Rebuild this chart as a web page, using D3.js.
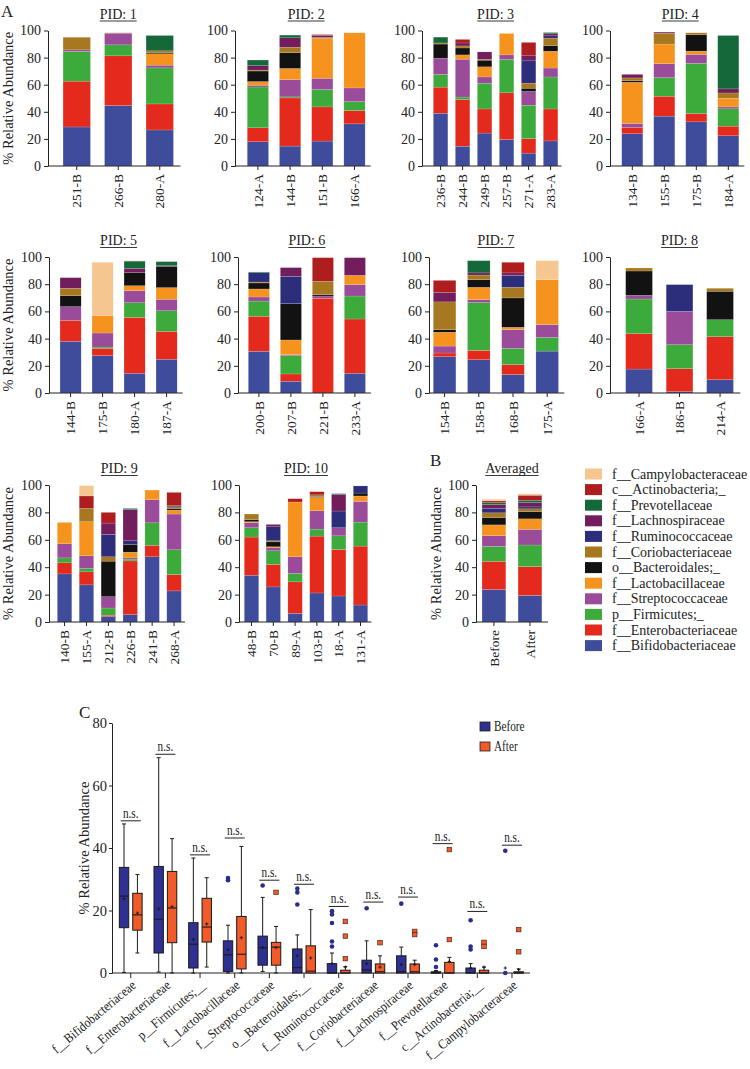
<!DOCTYPE html>
<html><head><meta charset="utf-8">
<script src="https://cdn.jsdelivr.net/npm/d3@7"></script>
<style>
body{margin:0;background:#fff}
svg{display:block}
text{font-family:"Liberation Serif","Times New Roman",serif;fill:#222}
</style>
</head><body>
<svg id="chart" width="750" height="1069"></svg>
<script>
// ---------- DATA ----------
const taxa = ["f__Bifidobacteriaceae","f__Enterobacteriaceae","p__Firmicutes;_","f__Streptococcaceae","f__Lactobacillaceae","o__Bacteroidales;_","f__Coriobacteriaceae","f__Ruminococcaceae","f__Lachnospiraceae","f__Prevotellaceae","c__Actinobacteria;_","f__Campylobacteraceae"];
const taxaColors = ["#3F4C9C","#E32A1C","#3DAA3C","#9A4B99","#F5931E","#121212","#A87820","#2C2E7C","#721D5C","#15683A","#AE1E1E","#F6C690"];

const panelTitles = ["PID: 1","PID: 2","PID: 3","PID: 4","PID: 5","PID: 6","PID: 7","PID: 8","PID: 9","PID: 10"];
const pidSamples = [
  ["251-B","266-B","280-A"],
  ["124-A","144-B","151-B","166-A"],
  ["236-B","244-B","249-B","257-B","271-A","283-A"],
  ["134-B","155-B","175-B","184-A"],
  ["144-B","175-B","180-A","187-A"],
  ["200-B","207-B","221-B","233-A"],
  ["154-B","158-B","168-B","175-A"],
  ["166-A","186-B","214-A"],
  ["140-B","155-A","212-B","226-B","241-B","268-A"],
  ["48-B","70-B","89-A","103-B","18-A","131-A"]
];
// values per sample, in stack order of `taxa`
const pidValues = [
  [[28.8,33.8,21.9,1.2,0,0,9.3,0,0,0,0,0],
   [44.6,36.7,8.1,8.6,0,0,0.3,0,0,0,0,0],
   [26.6,19.2,26.6,2.0,8.4,0.7,1.5,0,0,11.3,0,0]],
  [[17.9,10.3,30.1,1.3,2.7,7.8,0.7,0,3.2,4.2,0,0],
   [14.7,35.5,0.8,12.7,8.3,11.6,4.1,0,6.9,2.0,0,0],
   [18.4,25.2,12.8,8.3,29.4,0,0.8,0,1.4,0,0.7,0],
   [31.1,9.8,6.6,10.1,40.7,0,0,0,0,0,0,0]],
  [[38.9,19.3,9.4,12.0,0,10.4,0.8,0,0,4.3,0,0],
   [14.6,34.5,1.8,27.9,3.2,5.1,1.5,0,2.2,0,2.6,0],
   [24.3,17.8,19.0,4.6,7.5,4.9,0.7,0,5.4,0,0,0],
   [19.5,34.5,24.6,3.4,15.8,0,0,0,0,0,0,0],
   [9.5,10.7,24.6,10.2,0,2.4,3.7,16.5,4.2,0,9.4,0],
   [18.5,23.6,23.6,6.6,12.4,4.1,5.6,1.7,1.5,0.9,0,0]],
  [[23.8,4.6,0,3.0,30.4,1.2,2.0,0,2.6,0,0,0],
   [36.8,14.7,13.7,10.3,14.5,0,8.0,0,0.8,0,0,0],
   [32.6,6.1,37.0,6.7,2.4,12.0,1.5,0,0,0,0,0],
   [22.3,7.1,12.8,1.4,6.4,0,3.9,0,3.0,39.4,0,0]],
  [[38.0,15.4,0,10.1,0,8.1,5.4,0,7.8,0,0,0],
   [27.5,5.3,1.0,10.3,13.0,0,0,0,0,0,0,39.0],
   [14.5,41.1,10.8,8.8,3.7,9.6,0,0,3.2,5.3,0,0.3],
   [24.8,20.5,15.2,8.4,8.6,15.6,0,0,0.5,3.0,0,0]],
  [[30.6,25.8,11.2,3.0,5.9,4.4,0.7,6.9,0,0.5,0,0],
   [8.6,5.4,13.5,0.7,10.8,26.7,0,20.1,6.4,0,0,0],
   [0,69.6,0,1.7,0,1.0,9.8,0,0,0,17.4,0],
   [14.5,39.9,16.9,8.4,6.8,0,0,0,13.0,0,0,0]],
  [[26.7,2.7,0,5.1,10.2,1.9,20.4,0,7.0,0,8.8,0],
   [24.5,6.8,35.2,2.2,9.0,5.6,3.4,0,1.6,9.0,0,0],
   [13.6,7.3,11.9,13.8,1.7,21.6,7.8,8.7,1.9,0,7.8,0],
   [30.8,0,10.0,9.4,33.1,0,0,0,0,0,0,14.0]],
  [[17.6,26.0,25.5,2.7,0,17.9,2.2,0,0,0,0,0],
   [1.0,16.9,17.6,24.5,0,0,0,19.7,0,0,0,0],
   [9.8,31.6,12.5,0,0,20.9,2.2,0,0,0,0,0]],
  [[35.1,8.1,3.6,10.3,15.6,0,0,0,0,0,0,0],
   [27.1,9.5,2.4,9.3,24.9,0,9.7,0,0,0,9.1,7.5],
   [3.9,1.0,5.3,8.3,0,25.9,3.2,16.3,8.3,0,7.8,0],
   [5.4,39.2,1.3,0.9,4.2,5.6,0,2.7,22.9,0.7,0,0],
   [47.6,8.3,16.5,16.9,7.0,0,0,0,0,0,0,0],
   [22.7,11.9,18.1,26.1,2.9,1.2,1.2,0.8,0,0,9.7,0]],
  [[34.1,27.9,6.8,3.6,0.8,1.4,4.2,0,0,0,0,0],
   [25.6,16.4,10.0,2.1,0.8,3.6,0.8,10.2,1.7,0,0,0],
   [6.3,23.0,6.1,12.2,40.0,0,0,0,0,0,2.4,0],
   [21.2,41.5,5.1,13.4,9.8,0.6,1.2,0,0,0,2.3,0],
   [19.0,33.9,10.0,5.9,0,0,0,12.2,12.2,0.5,0,0],
   [12.4,43.0,17.5,15.1,4.0,2.1,0,5.2,0,0,0,0]]
];
const avgSamples = ["Before","After"];
const avgValues = [
  [23.7,20.6,10.9,7.8,7.9,5.4,3.4,3.3,2.7,1.5,1.2,1.2],
  [19.4,21.0,15.8,11.4,7.7,5.3,2.0,1.4,3.2,1.7,3.6,1.0]
];
const yTicksA = [0,20,40,60,80,100];

// Panel C
const boxCategories = ["f__Bifidobacteriaceae","f__Enterobacteriaceae","p__Firmicutes;__","f__Lactobacillaceae","f__Streptococcaceae","o__Bacteroidales;__","f__Ruminococcaceae","f__Coriobacteriaceae","f__Lachnospiraceae","f__Prevotellaceae","c__Actinobacteria;__","f__Campylobacteraceae"];
// [whiskerLow, q1, median, q3, whiskerHigh, mean]
const beforeStats = [
  [0.2,14.5,24.6,33.8,47.7,23.7],
  [0.3,6.4,17.2,34.1,68.9,20.5],
  [0,1.6,9.2,16.1,36.8,10.7],
  [0,0.5,5.8,10.3,15.3,7.5],
  [0.5,2.5,8.1,11.8,24.2,8.1],
  [0,0,1.7,7.7,12.2,5.5],
  [0,0,0,3.0,6.4,3.0],
  [0,0,1.0,4.1,10.3,3.0],
  [0,0,0.4,5.5,8.3,2.7],
  [0,0,0,0.4,0.8,0.4],
  [0,0,0,1.6,3.0,1.6],
  [0,0,0,0,0,1.6]
];
const afterStats = [
  [6.4,13.7,18.6,25.5,31.5,19.2],
  [0,9.7,20.8,32.5,43.0,21.2],
  [1.9,9.9,14.7,23.9,30.5,15.7],
  [0,1.3,6.0,18.1,40.5,11.3],
  [0,2.5,8.3,9.8,14.9,8.1],
  [0,0,0.6,8.7,20.3,4.8],
  [0,0,0,0.9,2.0,1.9],
  [0,0,0.4,2.9,5.5,1.9],
  [0,0,0.4,2.9,4.1,2.7],
  [0,0,0,3.4,5.0,3.7],
  [0,0,0,0.9,1.9,1.9],
  [0,0,0,0.4,1.3,1.1]
];
const beforeOutliers = [[],[],[],[30.4,29.7],[28.0],[27.0,25.8,21.9],[19.8,18.7,16.0,10.1,8.5],[20.7],[22.2],[8.9,4.3,1.9],[16.9,8.5,7.5],[39.1,0]];
const afterOutliers = [[],[],[],[],[25.8],[],[16.5,11.8,4.6],[9.7],[13.3,12.3],[39.5,10.7],[9.8,8.5],[13.9,6.8]];
const nsLevels = [48.7,70.0,37.8,43.2,29.7,28.4,21.3,22.7,24.3,41.4,19.7,40.9];
const yTicksC = [0,20,40,60,80];
const groupNames = ["Before","After"];
const groupColors = ["#2E3192","#F15A29"];

// ---------- LAYOUT ----------
const rowsY = [{top:30.5,bot:166},{top:257,bot:393},{top:485,bot:622}];
const panelPos = [
  {x0:48,a:56,b:180.5,row:0},{x0:235,a:241.8,b:370.6,row:0},{x0:422,a:429.6,b:561.6,row:0},{x0:610,a:616.3,b:744.3,row:0},
  {x0:49,a:54.6,b:182.6,row:1},{x0:238,a:242.9,b:370.9,row:1},{x0:429,a:427.5,b:564.3,row:1},{x0:610,a:618.8,b:740.3,row:1},
  {x0:49,a:53.6,b:185,row:2},{x0:239,a:240.6,b:371.4,row:2}
];
const FONT = '"Liberation Serif","Times New Roman",serif';
const svg = d3.select("#chart");

function stackPanel(pos, title, samples, values, ylabelX){
  const r = rowsY[pos.row];
  const g = svg.append("g");
  const y = d3.scaleLinear().domain([0,100]).range([r.bot, r.top]);
  const x = d3.scaleBand().domain(samples).range([pos.a,pos.b]).paddingInner(0.34).paddingOuter(0.17);
  const series = d3.stack().keys(d3.range(taxa.length)).value((d,k)=>d[k])(values);
  series.forEach((s,k)=>{
    g.append("g").selectAll("rect").data(s).join("rect")
      .attr("x",(d,i)=>x(samples[i]))
      .attr("width",x.bandwidth())
      .attr("y",d=>y(d[1]))
      .attr("height",d=>Math.max(0,y(d[0])-y(d[1])))
      .attr("fill",taxaColors[k])
      .attr("stroke","rgba(255,255,255,0.35)").attr("stroke-width",0.4);
  });
  const ya = g.append("g").attr("transform",`translate(${pos.x0},0)`)
    .call(d3.axisLeft(y).tickValues(yTicksA).tickSize(4).tickSizeOuter(0).tickPadding(3));
  ya.selectAll("text").attr("font-size",14).attr("font-family",FONT).attr("fill","#222");
  ya.selectAll("line,path").attr("stroke","#222");
  const xa = g.append("g").attr("transform",`translate(0,${r.bot})`)
    .call(d3.axisBottom(x).tickSize(4).tickSizeOuter(0));
  xa.select(".domain").remove();
  xa.selectAll("line").attr("stroke","#222");
  xa.selectAll("text").attr("font-size",13.5).attr("font-family",FONT).attr("fill","#222")
    .attr("transform","rotate(-90)").attr("text-anchor","end")
    .attr("x",-8).attr("y",0).attr("dy","0.35em");
  g.append("line").attr("x1",pos.x0).attr("x2",pos.b).attr("y1",r.bot).attr("y2",r.bot).attr("stroke","#222");
  const cx = (pos.a+pos.b)/2;
  const t = g.append("text").attr("x",cx).attr("y",r.top-12).attr("text-anchor","middle")
    .attr("font-size",14).text(title);
  const w = t.node().getComputedTextLength();
  g.append("line").attr("x1",cx-w/2).attr("x2",cx+w/2).attr("y1",r.top-9.5).attr("y2",r.top-9.5)
    .attr("stroke","#222").attr("stroke-width",0.9);
  if(ylabelX!==undefined){
    g.append("text").attr("transform",`translate(${ylabelX},${(r.top+r.bot)/2}) rotate(-90)`)
      .attr("text-anchor","middle").attr("font-size",14.5).text("% Relative Abundance");
  }
}

pidSamples.forEach((s,i)=>{
  stackPanel(panelPos[i], panelTitles[i], s, pidValues[i], (i%4===0)?13:undefined);
});
stackPanel({x0:476,a:475.9,b:548,row:2},"Averaged",avgSamples,avgValues,441);

// Legend B
const leg = svg.append("g");
taxa.slice().reverse().forEach((t,i)=>{
  const k = taxa.length-1-i;
  const yy = 474 + i*15.6;
  leg.append("rect").attr("x",585).attr("y",yy-5.5).attr("width",17).attr("height",11).attr("fill",taxaColors[k]);
  leg.append("text").attr("x",612).attr("y",yy+4.5).attr("font-size",14).text(t);
});

svg.append("text").attr("x",1).attr("y",17).attr("font-size",17).text("A");
svg.append("text").attr("x",430).attr("y",466).attr("font-size",17).text("B");
svg.append("text").attr("x",79).attr("y",718).attr("font-size",17).text("C");

// ---------- PANEL C ----------
const gc = svg.append("g");
const yC = d3.scaleLinear().domain([0,80]).range([973,723]);
const xC = d3.scaleBand().domain(boxCategories).range([113.4,529.3]);
const off = 6.7, bw = 9.4;

const yaC = gc.append("g").attr("transform","translate(112,0)")
  .call(d3.axisLeft(yC).tickValues(yTicksC).tickSize(3).tickSizeOuter(0).tickPadding(2));
yaC.selectAll("text").attr("font-size",14.5).attr("font-family",FONT).attr("fill","#222");
yaC.selectAll("line,path").attr("stroke","#222");

const xaC = gc.append("g").attr("transform","translate(0,973)")
  .call(d3.axisBottom(xC).tickSize(5).tickSizeOuter(0));
xaC.select(".domain").remove();
xaC.selectAll("line").attr("stroke","#222");
xaC.selectAll("text").attr("font-size",13.5).attr("font-family",FONT).attr("fill","#222")
  .attr("text-anchor","end").attr("x",0).attr("y",0).attr("dy","0.35em")
  .attr("transform","translate(3,10) rotate(-40) scale(0.88,1)");
gc.append("line").attr("x1",112).attr("x2",530).attr("y1",973).attr("y2",973).attr("stroke","#222");

gc.append("text").attr("transform",`translate(89,${(723+973)/2}) rotate(-90)`)
  .attr("text-anchor","middle").attr("font-size",14.5).text("% Relative Abundance");

function drawBox(cx, st, color){
  const [lo,q1,med,q3,hi,mean] = st;
  const s = "#1a1a1a";
  if(hi>q3){
    gc.append("line").attr("x1",cx).attr("x2",cx).attr("y1",yC(q3)).attr("y2",yC(hi)).attr("stroke",s);
    gc.append("line").attr("x1",cx-2).attr("x2",cx+2).attr("y1",yC(hi)).attr("y2",yC(hi)).attr("stroke",s);
  }
  if(q1>lo){
    gc.append("line").attr("x1",cx).attr("x2",cx).attr("y1",yC(lo)).attr("y2",yC(q1)).attr("stroke",s);
    gc.append("line").attr("x1",cx-2).attr("x2",cx+2).attr("y1",yC(lo)).attr("y2",yC(lo)).attr("stroke",s);
  }
  if(q3-q1>0.05){
    gc.append("rect").attr("x",cx-bw/2).attr("width",bw).attr("y",yC(q3)).attr("height",yC(q1)-yC(q3))
      .attr("fill",color).attr("stroke",s).attr("stroke-width",1);
    gc.append("line").attr("x1",cx-bw/2).attr("x2",cx+bw/2).attr("y1",yC(med)).attr("y2",yC(med)).attr("stroke",s).attr("stroke-width",1.1);
  }
  gc.append("line").attr("x1",cx-1.6).attr("x2",cx+1.6).attr("y1",yC(mean)).attr("y2",yC(mean)).attr("stroke",s).attr("stroke-width",0.9);
  gc.append("line").attr("x1",cx).attr("x2",cx).attr("y1",yC(mean)-1.6).attr("y2",yC(mean)+1.6).attr("stroke",s).attr("stroke-width",0.9);
}

boxCategories.forEach((c,i)=>{
  const cx = xC(c)+xC.bandwidth()/2;
  drawBox(cx-off, beforeStats[i], groupColors[0]);
  drawBox(cx+off, afterStats[i], groupColors[1]);
  beforeOutliers[i].forEach(v=>{
    gc.append("circle").attr("cx",cx-off).attr("cy",yC(v)).attr("r",2.3).attr("fill","#2B2E86");
  });
  afterOutliers[i].forEach(v=>{
    gc.append("rect").attr("x",cx+off-2.3).attr("y",yC(v)-2.3).attr("width",4.6).attr("height",4.6)
      .attr("fill","#F15A29").attr("stroke","#3a1a10").attr("stroke-width",0.6);
  });
  const ly = yC(nsLevels[i]);
  gc.append("line").attr("x1",cx-10).attr("x2",cx+10).attr("y1",ly).attr("y2",ly).attr("stroke","#222");
  gc.append("text").attr("transform",`translate(${cx},${ly-3}) scale(0.75,1)`)
    .attr("text-anchor","middle").attr("font-size",15).text("n.s.");
});

groupNames.forEach((n,i)=>{
  gc.append("rect").attr("x",480).attr("y",722+i*20).attr("width",10).attr("height",9)
    .attr("fill",groupColors[i]).attr("stroke","#222").attr("stroke-width",0.8);
  gc.append("text").attr("transform",`translate(494,${731+i*20}) scale(0.75,1)`)
    .attr("font-size",15).text(n);
});
</script>
</body></html>
